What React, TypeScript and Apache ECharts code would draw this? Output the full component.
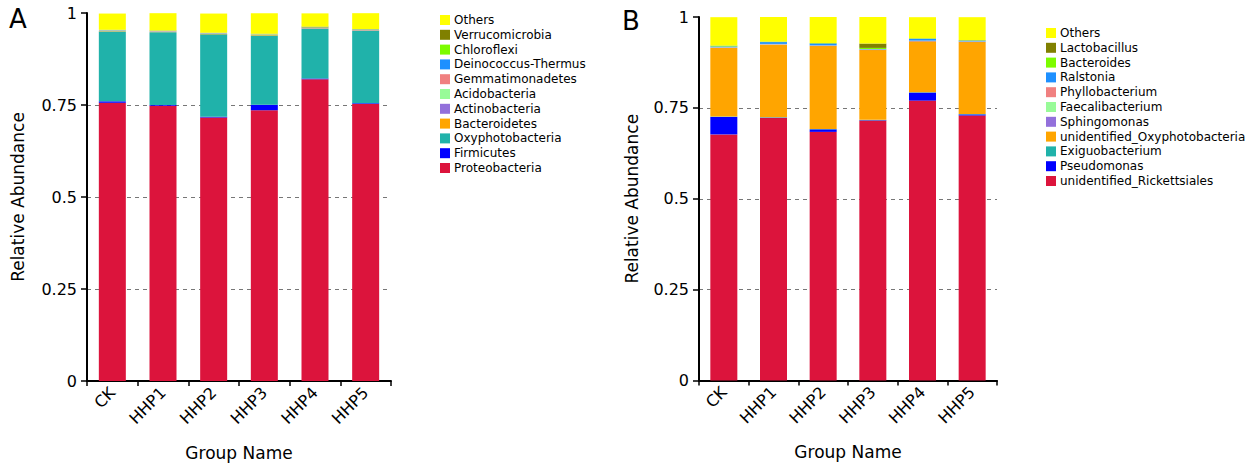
import React, { useEffect, useRef } from "react";
import * as echarts from "echarts";

const groups = ["CK", "HHP1", "HHP2", "HHP3", "HHP4", "HHP5"];
const yTicks = [0, 0.25, 0.5, 0.75, 1];

// Panel A (phylum), bottom to top
const phylumNames = [
  "Proteobacteria",
  "Firmicutes",
  "Oxyphotobacteria",
  "Bacteroidetes",
  "Actinobacteria",
  "Acidobacteria",
  "Gemmatimonadetes",
  "Deinococcus-Thermus",
  "Chloroflexi",
  "Verrucomicrobia",
  "Others",
];
const proteobacteria = [0.756, 0.748, 0.716, 0.736, 0.82, 0.753];
const firmicutes = [0.004, 0.002, 0.002, 0.015, 0.002, 0.002];
const oxyphotobacteria = [0.19, 0.198, 0.224, 0.188, 0.135, 0.197];
const bacteroidetes = [0.001, 0.001, 0.001, 0.001, 0.001, 0.001];
const actinobacteria = [0.001, 0.001, 0.001, 0.001, 0.001, 0.001];
const acidobacteria = [0.0005, 0.0005, 0.0005, 0.0005, 0.0005, 0.0005];
const gemmatimonadetes = [0.0005, 0.0005, 0.0005, 0.0005, 0.0005, 0.0005];
const deinococcus = [0.0005, 0.0005, 0.0005, 0.0005, 0.0005, 0.0005];
const chloroflexi = [0.0005, 0.0005, 0.0005, 0.0005, 0.0005, 0.0005];
const verrucomicrobia = [0.0005, 0.0005, 0.0005, 0.0005, 0.002, 0.0005];
const othersA = [0.044, 0.047, 0.052, 0.056, 0.036, 0.043];
const phylumValues = [
  proteobacteria,
  firmicutes,
  oxyphotobacteria,
  bacteroidetes,
  actinobacteria,
  acidobacteria,
  gemmatimonadetes,
  deinococcus,
  chloroflexi,
  verrucomicrobia,
  othersA,
];

// Panel B (genus), bottom to top
const genusNames = [
  "unidentified_Rickettsiales",
  "Pseudomonas",
  "Exiguobacterium",
  "unidentified_Oxyphotobacteria",
  "Sphingomonas",
  "Faecalibacterium",
  "Phyllobacterium",
  "Ralstonia",
  "Bacteroides",
  "Lactobacillus",
  "Others",
];
const rickettsiales = [0.677, 0.722, 0.684, 0.715, 0.77, 0.729];
const pseudomonas = [0.048, 0.001, 0.007, 0.001, 0.022, 0.003];
const exiguobacterium = [0.001, 0.001, 0.001, 0.001, 0.001, 0.001];
const uOxyphotobacteria = [0.189, 0.2, 0.228, 0.192, 0.14, 0.198];
const sphingomonas = [0.001, 0.001, 0.001, 0.001, 0.001, 0.001];
const faecalibacterium = [0.0005, 0.0005, 0.0005, 0.0005, 0.0005, 0.0005];
const phyllobacterium = [0.0005, 0.0005, 0.0005, 0.0005, 0.0005, 0.0005];
const ralstonia = [0.002, 0.005, 0.005, 0.001, 0.005, 0.002];
const bacteroides = [0.002, 0.001, 0.001, 0.003, 0.001, 0.001];
const lactobacillus = [0.0005, 0.0005, 0.0005, 0.012, 0.0005, 0.0005];
const othersB = [0.078, 0.068, 0.072, 0.073, 0.058, 0.063];
const genusValues = [
  rickettsiales,
  pseudomonas,
  exiguobacterium,
  uOxyphotobacteria,
  sphingomonas,
  faecalibacterium,
  phyllobacterium,
  ralstonia,
  bacteroides,
  lactobacillus,
  othersB,
];

const colors = [
  "#DC143C",
  "#0000FF",
  "#20B2AA",
  "#FFA500",
  "#9370DB",
  "#98FB98",
  "#F08080",
  "#1E90FF",
  "#7CFC00",
  "#808000",
  "#FFFF00",
];

const FONT = "DejaVu Sans";

function makeAxes(idx: number) {
  const xAxis = {
    type: "category",
    gridIndex: idx,
    data: groups,
    axisLine: { lineStyle: { color: "#000", width: 2 } },
    axisTick: { show: true, length: 5, lineStyle: { color: "#000", width: 1.5 } },
    axisLabel: {
      rotate: 45,
      fontSize: 16,
      color: "#000",
      fontFamily: FONT,
      margin: 9,
    },
    name: "Group Name",
    nameLocation: "middle",
    nameGap: 63,
    nameTextStyle: { fontSize: 17, color: "#000", fontFamily: FONT },
  };
  const yAxis = {
    type: "value",
    gridIndex: idx,
    min: yTicks[0],
    max: yTicks[yTicks.length - 1],
    interval: 0.25,
    axisLine: { show: true, lineStyle: { color: "#000", width: 2 } },
    axisTick: { show: true, length: 6, lineStyle: { color: "#000", width: 1.5 } },
    axisLabel: {
      fontSize: 16,
      color: "#000",
      fontFamily: FONT,
      margin: 10,
      formatter: (v: number) => String(v),
    },
    splitLine: {
      show: true,
      showMinLine: false,
      showMaxLine: false,
      lineStyle: { color: "#777", type: [4, 4], width: 1 },
    },
    name: "Relative Abundance",
    nameLocation: "middle",
    nameGap: idx === 0 ? 61 : 59,
    nameTextStyle: { fontSize: 17, color: "#000", fontFamily: FONT },
  };
  return { xAxis, yAxis };
}

export default function App() {
  const ref = useRef<HTMLDivElement>(null);
  useEffect(() => {
    if (!ref.current) return;
    const chart = echarts.init(ref.current, undefined, { renderer: "svg" });
    const a = makeAxes(0);
    const b = makeAxes(1);
    const series: any[] = [];
    phylumNames.forEach((n, i) => {
      series.push({
        name: n,
        type: "bar",
        stack: "A",
        xAxisIndex: 0,
        yAxisIndex: 0,
        barWidth: 27,
        data: phylumValues[i],
        itemStyle: { color: colors[i] },
      });
    });
    genusNames.forEach((n, i) => {
      series.push({
        name: n,
        type: "bar",
        stack: "B",
        xAxisIndex: 1,
        yAxisIndex: 1,
        barWidth: 27,
        data: genusValues[i],
        itemStyle: { color: colors[i] },
      });
    });
    const legendCommon = {
      orient: "vertical",
      icon: "rect",
      itemWidth: 10,
      itemHeight: 10,
      itemGap: 2.8,
      selectedMode: false,
      textStyle: { fontSize: 12, color: "#000", fontFamily: FONT, lineHeight: 12, padding: [0, 0, 0, -1] },
      padding: 0,
    };
    chart.setOption({
      animation: false,
      backgroundColor: "#fff",
      textStyle: { fontFamily: FONT },
      title: [
        { text: "A", left: 9, top: 6, padding: 0, textStyle: { fontSize: 26, fontWeight: "normal", color: "#000", fontFamily: FONT } },
        { text: "B", left: 622, top: 8, padding: 0, textStyle: { fontSize: 26, fontWeight: "normal", color: "#000", fontFamily: FONT } },
      ],
      grid: [
        { left: 87, top: 13, width: 304, height: 368, outerBoundsMode: "none", containLabel: false },
        { left: 699, top: 17, width: 298, height: 363.5, outerBoundsMode: "none", containLabel: false },
      ],
      xAxis: [a.xAxis, b.xAxis],
      yAxis: [a.yAxis, b.yAxis],
      legend: [
        { ...legendCommon, left: 440, top: 14, data: [...phylumNames].reverse() },
        { ...legendCommon, left: 1046, top: 27, data: [...genusNames].reverse() },
      ],
      series,
    });
    return () => chart.dispose();
  }, []);
  return (
    <div
      ref={ref}
      style={{ position: "fixed", left: 0, top: 0, width: 1252, height: 468, background: "#fff" }}
    />
  );
}
